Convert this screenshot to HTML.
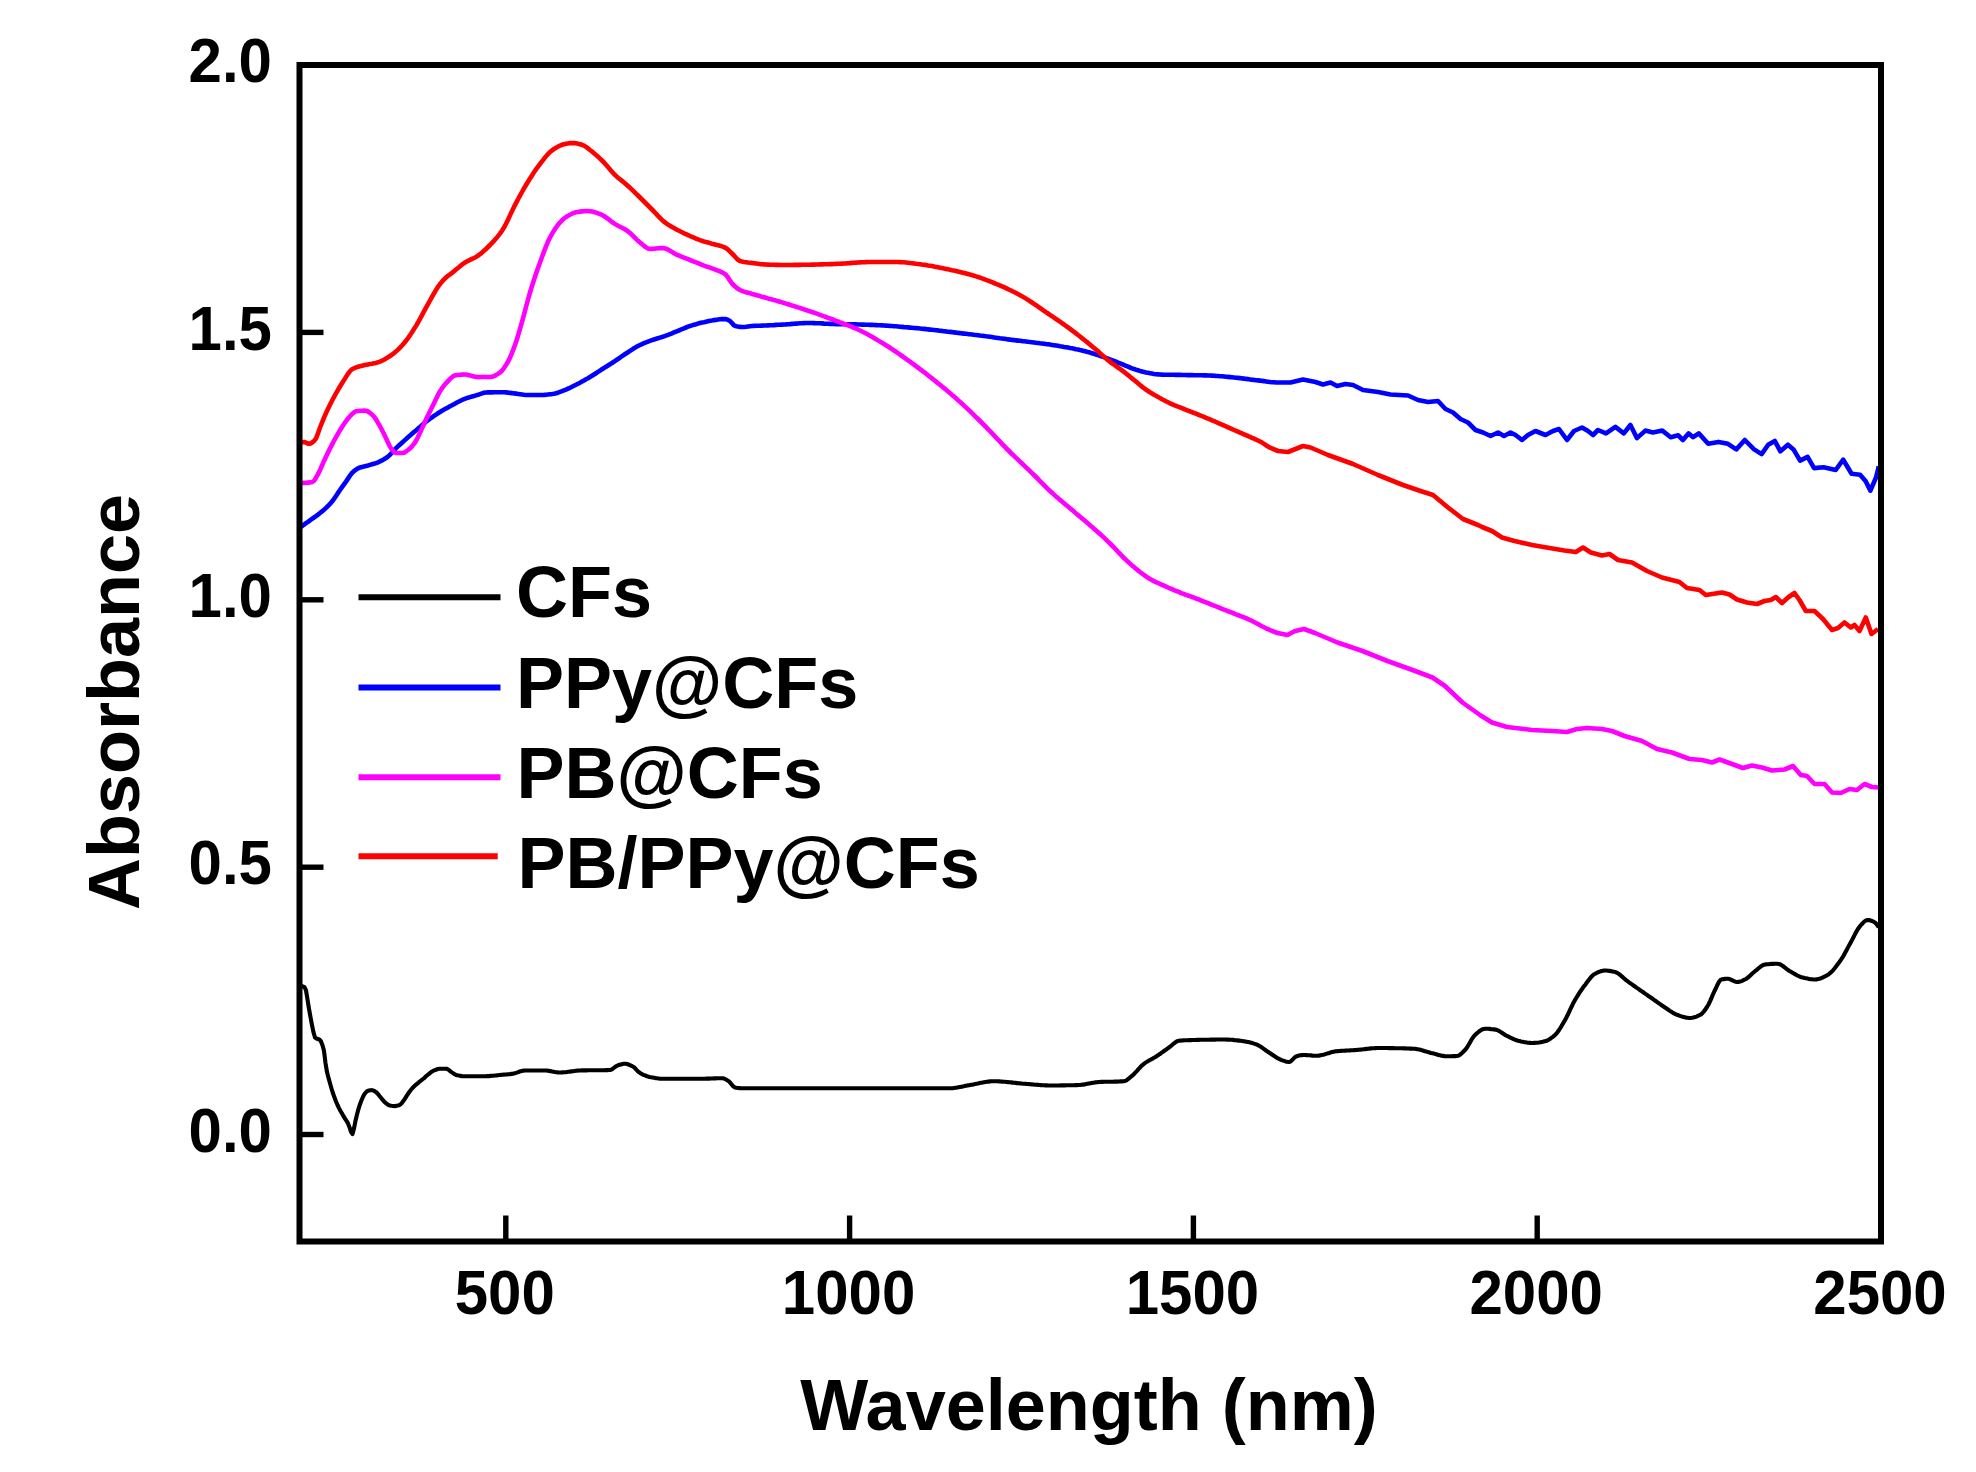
<!DOCTYPE html>
<html lang="en">
<head>
<meta charset="utf-8">
<title>Absorbance spectra</title>
<style>
html,body{margin:0;padding:0;background:#fff;}
body{width:1976px;height:1472px;overflow:hidden;}
svg{display:block;filter:blur(0.6px);}
</style>
</head>
<body>
<svg width="1976" height="1472" viewBox="0 0 1976 1472">
<rect x="0" y="0" width="1976" height="1472" fill="#fff"/>
<g fill="none" stroke-linejoin="round" stroke-linecap="butt">
<path d="M300.0,986.0 L301.5,986.1 L303.0,986.5 L304.5,987.2 L306.0,990.3 L307.5,999.5 L309.0,1008.8 L310.5,1017.2 L312.0,1025.1 L313.5,1032.4 L315.0,1037.5 L316.5,1038.5 L318.0,1039.0 L319.5,1039.6 L321.0,1041.4 L322.5,1045.3 L324.0,1050.9 L325.5,1063.0 L327.0,1072.1 L328.5,1077.9 L330.0,1083.2 L331.5,1088.5 L333.0,1093.3 L334.5,1097.6 L336.0,1101.5 L337.5,1105.0 L339.0,1108.1 L340.5,1111.0 L342.0,1113.6 L343.5,1116.2 L345.0,1118.6 L346.5,1120.9 L348.0,1123.4 L349.5,1127.2 L351.0,1131.9 L352.5,1134.0 L354.0,1128.4 L355.5,1120.8 L357.0,1114.5 L358.5,1108.9 L360.0,1104.2 L361.5,1100.2 L363.0,1096.7 L364.5,1094.0 L366.0,1092.2 L367.5,1090.9 L369.0,1090.5 L370.5,1090.2 L372.0,1090.1 L373.5,1090.6 L375.0,1091.4 L376.5,1092.5 L378.0,1094.1 L379.5,1096.0 L381.0,1097.8 L382.5,1099.7 L384.0,1101.4 L385.5,1102.8 L387.0,1104.0 L388.5,1105.0 L390.0,1105.5 L391.5,1105.8 L393.0,1106.0 L394.5,1106.1 L396.0,1105.9 L397.5,1105.6 L399.0,1105.2 L400.5,1104.4 L402.0,1102.8 L403.5,1100.8 L405.0,1098.6 L406.5,1096.1 L408.0,1093.8 L409.5,1091.7 L411.0,1089.8 L412.5,1088.0 L414.0,1086.5 L415.5,1085.1 L417.0,1083.8 L418.5,1082.6 L420.0,1081.3 L421.5,1080.2 L423.0,1079.0 L424.5,1077.8 L426.0,1076.3 L427.5,1075.0 L429.0,1073.8 L430.5,1072.6 L432.0,1071.5 L433.5,1070.7 L435.0,1070.1 L436.5,1069.5 L438.0,1069.0 L439.5,1068.8 L441.0,1068.8 L442.5,1068.8 L444.0,1068.8 L445.5,1068.8 L447.0,1068.9 L448.5,1069.7 L450.0,1071.0 L451.5,1072.1 L453.0,1073.1 L454.5,1074.2 L456.0,1074.9 L457.5,1075.3 L459.0,1075.6 L460.5,1075.9 L462.0,1076.1 L463.5,1076.2 L465.0,1076.2 L466.5,1076.2 L468.0,1076.2 L469.5,1076.2 L471.0,1076.2 L472.5,1076.2 L474.0,1076.2 L475.5,1076.2 L477.0,1076.2 L478.5,1076.2 L480.0,1076.2 L481.5,1076.2 L483.0,1076.2 L484.5,1076.2 L486.0,1076.2 L487.5,1076.1 L489.0,1076.1 L490.5,1075.9 L492.0,1075.8 L493.5,1075.7 L495.0,1075.5 L496.5,1075.4 L498.0,1075.2 L499.5,1075.0 L501.0,1074.9 L502.5,1074.8 L504.0,1074.6 L505.5,1074.5 L507.0,1074.4 L508.5,1074.2 L510.0,1074.1 L511.5,1073.9 L513.0,1073.7 L514.5,1073.3 L516.0,1072.9 L517.5,1072.4 L519.0,1071.8 L520.5,1071.3 L522.0,1070.9 L523.5,1070.6 L525.0,1070.5 L526.5,1070.5 L528.0,1070.5 L529.5,1070.5 L531.0,1070.5 L532.5,1070.5 L534.0,1070.5 L535.5,1070.5 L537.0,1070.5 L538.5,1070.5 L540.0,1070.5 L541.5,1070.5 L543.0,1070.5 L544.5,1070.5 L546.0,1070.5 L547.5,1070.6 L549.0,1070.9 L550.5,1071.1 L552.0,1071.4 L553.5,1071.7 L555.0,1072.0 L556.5,1072.2 L558.0,1072.4 L559.5,1072.5 L561.0,1072.5 L562.5,1072.4 L564.0,1072.3 L565.5,1072.2 L567.0,1072.0 L568.5,1071.8 L570.0,1071.6 L571.5,1071.4 L573.0,1071.2 L574.5,1071.0 L576.0,1070.8 L577.5,1070.6 L579.0,1070.5 L580.5,1070.5 L582.0,1070.4 L583.5,1070.4 L585.0,1070.4 L586.5,1070.4 L588.0,1070.3 L589.5,1070.3 L591.0,1070.3 L592.5,1070.3 L594.0,1070.3 L595.5,1070.3 L597.0,1070.3 L598.5,1070.3 L600.0,1070.2 L601.5,1070.2 L603.0,1070.2 L604.5,1070.2 L606.0,1070.1 L607.5,1070.1 L609.0,1070.0 L610.5,1069.9 L612.0,1069.3 L613.5,1068.2 L615.0,1067.0 L616.5,1066.0 L618.0,1065.3 L619.5,1064.8 L621.0,1064.4 L622.5,1064.0 L624.0,1063.8 L625.5,1063.8 L627.0,1064.0 L628.5,1064.5 L630.0,1065.1 L631.5,1065.8 L633.0,1066.5 L634.5,1067.7 L636.0,1069.3 L637.5,1070.9 L639.0,1072.3 L640.5,1073.3 L642.0,1074.1 L643.5,1074.8 L645.0,1075.4 L646.5,1076.0 L648.0,1076.5 L649.5,1076.9 L651.0,1077.2 L652.5,1077.5 L654.0,1077.8 L655.5,1078.1 L657.0,1078.3 L658.5,1078.5 L660.0,1078.7 L661.5,1078.7 L663.0,1078.8 L664.5,1078.8 L666.0,1078.8 L667.5,1078.8 L669.0,1078.8 L670.5,1078.8 L672.0,1078.8 L673.5,1078.8 L675.0,1078.8 L676.5,1078.8 L678.0,1078.8 L679.5,1078.8 L681.0,1078.8 L682.5,1078.8 L684.0,1078.8 L685.5,1078.8 L687.0,1078.8 L688.5,1078.8 L690.0,1078.8 L691.5,1078.8 L693.0,1078.8 L694.5,1078.8 L696.0,1078.8 L697.5,1078.8 L699.0,1078.8 L700.5,1078.7 L702.0,1078.7 L703.5,1078.7 L705.0,1078.7 L706.5,1078.6 L708.0,1078.6 L709.5,1078.6 L711.0,1078.5 L712.5,1078.5 L714.0,1078.4 L715.5,1078.4 L717.0,1078.3 L718.5,1078.3 L720.0,1078.3 L721.5,1078.3 L723.0,1078.3 L724.5,1078.7 L726.0,1079.5 L727.5,1080.4 L729.0,1081.4 L730.5,1083.0 L732.0,1084.9 L733.5,1086.6 L735.0,1087.5 L736.5,1087.8 L738.0,1088.0 L739.5,1088.1 L741.0,1088.2 L742.5,1088.2 L744.0,1088.2 L745.5,1088.2 L747.0,1088.2 L748.5,1088.2 L750.0,1088.2 L751.5,1088.2 L753.0,1088.2 L754.5,1088.2 L756.0,1088.2 L757.5,1088.2 L759.0,1088.2 L760.5,1088.2 L762.0,1088.2 L763.5,1088.2 L765.0,1088.2 L766.5,1088.2 L768.0,1088.2 L769.5,1088.2 L771.0,1088.2 L772.5,1088.2 L774.0,1088.2 L775.5,1088.2 L777.0,1088.2 L778.5,1088.2 L780.0,1088.2 L781.5,1088.2 L783.0,1088.2 L784.5,1088.2 L786.0,1088.2 L787.5,1088.2 L789.0,1088.2 L790.5,1088.2 L792.0,1088.2 L793.5,1088.2 L795.0,1088.2 L796.5,1088.2 L798.0,1088.2 L799.5,1088.2 L801.0,1088.2 L802.5,1088.2 L804.0,1088.2 L805.5,1088.2 L807.0,1088.2 L808.5,1088.2 L810.0,1088.2 L811.5,1088.2 L813.0,1088.2 L814.5,1088.2 L816.0,1088.2 L817.5,1088.2 L819.0,1088.2 L820.5,1088.2 L822.0,1088.2 L823.5,1088.2 L825.0,1088.2 L826.5,1088.2 L828.0,1088.2 L829.5,1088.2 L831.0,1088.2 L832.5,1088.2 L834.0,1088.2 L835.5,1088.2 L837.0,1088.2 L838.5,1088.2 L840.0,1088.2 L841.5,1088.2 L843.0,1088.2 L844.5,1088.2 L846.0,1088.2 L847.5,1088.2 L849.0,1088.2 L850.5,1088.2 L852.0,1088.2 L853.5,1088.2 L855.0,1088.2 L856.5,1088.2 L858.0,1088.2 L859.5,1088.2 L861.0,1088.2 L862.5,1088.2 L864.0,1088.2 L865.5,1088.2 L867.0,1088.2 L868.5,1088.2 L870.0,1088.2 L871.5,1088.2 L873.0,1088.2 L874.5,1088.2 L876.0,1088.2 L877.5,1088.2 L879.0,1088.2 L880.5,1088.2 L882.0,1088.2 L883.5,1088.2 L885.0,1088.2 L886.5,1088.2 L888.0,1088.2 L889.5,1088.2 L891.0,1088.2 L892.5,1088.2 L894.0,1088.2 L895.5,1088.2 L897.0,1088.2 L898.5,1088.2 L900.0,1088.2 L901.5,1088.2 L903.0,1088.2 L904.5,1088.2 L906.0,1088.2 L907.5,1088.2 L909.0,1088.2 L910.5,1088.2 L912.0,1088.2 L913.5,1088.2 L915.0,1088.2 L916.5,1088.2 L918.0,1088.2 L919.5,1088.2 L921.0,1088.2 L922.5,1088.2 L924.0,1088.2 L925.5,1088.2 L927.0,1088.2 L928.5,1088.2 L930.0,1088.2 L931.5,1088.2 L933.0,1088.2 L934.5,1088.2 L936.0,1088.2 L937.5,1088.2 L939.0,1088.2 L940.5,1088.2 L942.0,1088.2 L943.5,1088.2 L945.0,1088.2 L946.5,1088.2 L948.0,1088.2 L949.5,1088.2 L951.0,1088.2 L952.5,1088.2 L954.0,1088.0 L955.5,1087.8 L957.0,1087.6 L958.5,1087.3 L960.0,1087.0 L961.5,1086.7 L963.0,1086.4 L964.5,1086.1 L966.0,1085.7 L967.5,1085.4 L969.0,1085.2 L970.5,1084.9 L972.0,1084.7 L973.5,1084.4 L975.0,1084.1 L976.5,1083.8 L978.0,1083.5 L979.5,1083.1 L981.0,1082.8 L982.5,1082.6 L984.0,1082.3 L985.5,1082.0 L987.0,1081.8 L988.5,1081.6 L990.0,1081.4 L991.5,1081.3 L993.0,1081.3 L994.5,1081.3 L996.0,1081.3 L997.5,1081.3 L999.0,1081.4 L1000.5,1081.5 L1002.0,1081.6 L1003.5,1081.7 L1005.0,1081.8 L1006.5,1082.0 L1008.0,1082.1 L1009.5,1082.3 L1011.0,1082.4 L1012.5,1082.6 L1014.0,1082.8 L1015.5,1082.9 L1017.0,1083.1 L1018.5,1083.3 L1020.0,1083.4 L1021.5,1083.5 L1023.0,1083.7 L1024.5,1083.8 L1026.0,1083.9 L1027.5,1084.0 L1029.0,1084.1 L1030.5,1084.3 L1032.0,1084.4 L1033.5,1084.5 L1035.0,1084.7 L1036.5,1084.8 L1038.0,1084.9 L1039.5,1085.0 L1041.0,1085.1 L1042.5,1085.2 L1044.0,1085.3 L1045.5,1085.4 L1047.0,1085.4 L1048.5,1085.5 L1050.0,1085.5 L1051.5,1085.5 L1053.0,1085.5 L1054.5,1085.5 L1056.0,1085.5 L1057.5,1085.5 L1059.0,1085.5 L1060.5,1085.4 L1062.0,1085.4 L1063.5,1085.4 L1065.0,1085.4 L1066.5,1085.3 L1068.0,1085.3 L1069.5,1085.3 L1071.0,1085.2 L1072.5,1085.2 L1074.0,1085.2 L1075.5,1085.1 L1077.0,1085.1 L1078.5,1085.0 L1080.0,1085.0 L1081.5,1084.8 L1083.0,1084.6 L1084.5,1084.4 L1086.0,1084.1 L1087.5,1083.8 L1089.0,1083.5 L1090.5,1083.2 L1092.0,1082.9 L1093.5,1082.7 L1095.0,1082.4 L1096.5,1082.2 L1098.0,1082.1 L1099.5,1082.0 L1101.0,1081.9 L1102.5,1081.9 L1104.0,1081.8 L1105.5,1081.8 L1107.0,1081.7 L1108.5,1081.7 L1110.0,1081.7 L1111.5,1081.7 L1113.0,1081.7 L1114.5,1081.6 L1116.0,1081.6 L1117.5,1081.6 L1119.0,1081.5 L1120.5,1081.4 L1122.0,1081.4 L1123.5,1081.3 L1125.0,1081.0 L1126.5,1080.3 L1128.0,1079.2 L1129.5,1077.9 L1131.0,1076.7 L1132.5,1075.4 L1134.0,1074.0 L1135.5,1072.4 L1137.0,1070.8 L1138.5,1069.1 L1140.0,1067.5 L1141.5,1065.9 L1143.0,1064.6 L1144.5,1063.4 L1146.0,1062.4 L1147.5,1061.4 L1149.0,1060.5 L1150.5,1059.7 L1152.0,1058.9 L1153.5,1058.0 L1155.0,1057.2 L1156.5,1056.2 L1158.0,1055.3 L1159.5,1054.2 L1161.0,1053.2 L1162.5,1052.1 L1164.0,1051.0 L1165.5,1050.0 L1167.0,1048.9 L1168.5,1047.8 L1170.0,1046.8 L1171.5,1045.5 L1173.0,1044.2 L1174.5,1043.0 L1176.0,1041.9 L1177.5,1041.1 L1179.0,1040.8 L1180.5,1040.6 L1182.0,1040.5 L1183.5,1040.4 L1185.0,1040.3 L1186.5,1040.2 L1188.0,1040.2 L1189.5,1040.1 L1191.0,1040.1 L1192.5,1040.0 L1194.0,1040.0 L1195.5,1040.0 L1197.0,1039.9 L1198.5,1039.9 L1200.0,1039.8 L1201.5,1039.8 L1203.0,1039.8 L1204.5,1039.7 L1206.0,1039.7 L1207.5,1039.7 L1209.0,1039.7 L1210.5,1039.6 L1212.0,1039.6 L1213.5,1039.6 L1215.0,1039.6 L1216.5,1039.5 L1218.0,1039.5 L1219.5,1039.5 L1221.0,1039.5 L1222.5,1039.5 L1224.0,1039.5 L1225.5,1039.5 L1227.0,1039.6 L1228.5,1039.6 L1230.0,1039.7 L1231.5,1039.8 L1233.0,1039.9 L1234.5,1040.1 L1236.0,1040.2 L1237.5,1040.4 L1239.0,1040.6 L1240.5,1040.8 L1242.0,1041.0 L1243.5,1041.2 L1245.0,1041.4 L1246.5,1041.7 L1248.0,1042.0 L1249.5,1042.3 L1251.0,1042.7 L1252.5,1043.1 L1254.0,1043.6 L1255.5,1044.1 L1257.0,1044.7 L1258.5,1045.4 L1260.0,1046.3 L1261.5,1047.2 L1263.0,1048.3 L1264.5,1049.4 L1266.0,1050.5 L1267.5,1051.5 L1269.0,1052.5 L1270.5,1053.5 L1272.0,1054.5 L1273.5,1055.5 L1275.0,1056.5 L1276.5,1057.5 L1278.0,1058.4 L1279.5,1059.1 L1281.0,1059.8 L1282.5,1060.4 L1284.0,1060.9 L1285.5,1061.4 L1287.0,1061.8 L1288.5,1062.0 L1290.0,1061.8 L1291.5,1060.7 L1293.0,1059.1 L1294.5,1057.6 L1296.0,1056.4 L1297.5,1056.0 L1299.0,1055.6 L1300.5,1055.3 L1302.0,1055.1 L1303.5,1055.0 L1305.0,1055.0 L1306.5,1055.1 L1308.0,1055.2 L1309.5,1055.3 L1311.0,1055.4 L1312.5,1055.6 L1314.0,1055.7 L1315.5,1055.7 L1317.0,1055.7 L1318.5,1055.6 L1320.0,1055.4 L1321.5,1055.1 L1323.0,1054.8 L1324.5,1054.4 L1326.0,1053.9 L1327.5,1053.4 L1329.0,1053.0 L1330.5,1052.5 L1332.0,1052.1 L1333.5,1051.7 L1335.0,1051.4 L1336.5,1051.2 L1338.0,1051.1 L1339.5,1051.0 L1341.0,1050.9 L1342.5,1050.8 L1344.0,1050.7 L1345.5,1050.6 L1347.0,1050.5 L1348.5,1050.5 L1350.0,1050.4 L1351.5,1050.3 L1353.0,1050.2 L1354.5,1050.1 L1356.0,1050.0 L1357.5,1049.9 L1359.0,1049.8 L1360.5,1049.6 L1362.0,1049.5 L1363.5,1049.3 L1365.0,1049.1 L1366.5,1048.9 L1368.0,1048.8 L1369.5,1048.6 L1371.0,1048.4 L1372.5,1048.3 L1374.0,1048.2 L1375.5,1048.1 L1377.0,1048.0 L1378.5,1048.0 L1380.0,1048.0 L1381.5,1048.0 L1383.0,1048.0 L1384.5,1048.0 L1386.0,1048.0 L1387.5,1048.0 L1389.0,1048.1 L1390.5,1048.1 L1392.0,1048.1 L1393.5,1048.1 L1395.0,1048.2 L1396.5,1048.2 L1398.0,1048.2 L1399.5,1048.3 L1401.0,1048.3 L1402.5,1048.3 L1404.0,1048.4 L1405.5,1048.4 L1407.0,1048.5 L1408.5,1048.5 L1410.0,1048.6 L1411.5,1048.6 L1413.0,1048.7 L1414.5,1048.8 L1416.0,1048.9 L1417.5,1049.2 L1419.0,1049.5 L1420.5,1049.8 L1422.0,1050.3 L1423.5,1050.7 L1425.0,1051.2 L1426.5,1051.6 L1428.0,1052.1 L1429.5,1052.5 L1431.0,1052.9 L1432.5,1053.2 L1434.0,1053.6 L1435.5,1054.1 L1437.0,1054.5 L1438.5,1054.9 L1440.0,1055.3 L1441.5,1055.7 L1443.0,1055.9 L1444.5,1056.1 L1446.0,1056.2 L1447.5,1056.2 L1449.0,1056.2 L1450.5,1056.2 L1452.0,1056.2 L1453.5,1056.1 L1455.0,1056.1 L1456.5,1056.0 L1458.0,1055.8 L1459.5,1055.1 L1461.0,1053.9 L1462.5,1052.5 L1464.0,1051.0 L1465.5,1049.5 L1467.0,1047.5 L1468.5,1045.0 L1470.0,1042.4 L1471.5,1039.7 L1473.0,1037.4 L1474.5,1035.5 L1476.0,1034.1 L1477.5,1032.8 L1479.0,1031.5 L1480.5,1030.4 L1482.0,1029.5 L1483.5,1029.0 L1485.0,1028.8 L1486.5,1028.8 L1488.0,1028.8 L1489.5,1028.9 L1491.0,1029.1 L1492.5,1029.2 L1494.0,1029.4 L1495.5,1029.6 L1497.0,1030.0 L1498.5,1030.7 L1500.0,1031.6 L1501.5,1032.5 L1503.0,1033.5 L1504.5,1034.5 L1506.0,1035.5 L1507.5,1036.2 L1509.0,1036.9 L1510.5,1037.7 L1512.0,1038.4 L1513.5,1039.0 L1515.0,1039.7 L1516.5,1040.2 L1518.0,1040.7 L1519.5,1041.1 L1521.0,1041.5 L1522.5,1041.8 L1524.0,1042.1 L1525.5,1042.3 L1527.0,1042.6 L1528.5,1042.8 L1530.0,1042.9 L1531.5,1043.0 L1533.0,1043.0 L1534.5,1042.9 L1536.0,1042.8 L1537.5,1042.7 L1539.0,1042.5 L1540.5,1042.2 L1542.0,1041.9 L1543.5,1041.6 L1545.0,1041.2 L1546.5,1040.8 L1548.0,1040.1 L1549.5,1039.3 L1551.0,1038.2 L1552.5,1037.1 L1554.0,1035.9 L1555.5,1034.5 L1557.0,1032.9 L1558.5,1030.8 L1560.0,1028.5 L1561.5,1026.1 L1563.0,1023.5 L1564.5,1020.9 L1566.0,1018.2 L1567.5,1015.3 L1569.0,1012.1 L1570.5,1008.9 L1572.0,1005.8 L1573.5,1002.7 L1575.0,1000.0 L1576.5,997.5 L1578.0,995.1 L1579.5,992.7 L1581.0,990.5 L1582.5,988.3 L1584.0,986.3 L1585.5,984.4 L1587.0,982.3 L1588.5,980.3 L1590.0,978.4 L1591.5,976.6 L1593.0,975.2 L1594.5,974.0 L1596.0,973.3 L1597.5,972.5 L1599.0,971.9 L1600.5,971.3 L1602.0,970.9 L1603.5,970.6 L1605.0,970.5 L1606.5,970.5 L1608.0,970.7 L1609.5,970.9 L1611.0,971.1 L1612.5,971.4 L1614.0,971.8 L1615.5,972.1 L1617.0,972.8 L1618.5,973.7 L1620.0,974.8 L1621.5,976.1 L1623.0,977.4 L1624.5,978.8 L1626.0,980.1 L1627.5,981.2 L1629.0,982.3 L1630.5,983.4 L1632.0,984.4 L1633.5,985.5 L1635.0,986.5 L1636.5,987.6 L1638.0,988.6 L1639.5,989.7 L1641.0,990.7 L1642.5,991.8 L1644.0,992.8 L1645.5,993.9 L1647.0,994.9 L1648.5,996.0 L1650.0,997.0 L1651.5,998.0 L1653.0,999.1 L1654.5,1000.2 L1656.0,1001.2 L1657.5,1002.3 L1659.0,1003.4 L1660.5,1004.4 L1662.0,1005.5 L1663.5,1006.5 L1665.0,1007.5 L1666.5,1008.5 L1668.0,1009.5 L1669.5,1010.6 L1671.0,1011.6 L1672.5,1012.5 L1674.0,1013.4 L1675.5,1014.2 L1677.0,1014.8 L1678.5,1015.3 L1680.0,1015.9 L1681.5,1016.4 L1683.0,1016.8 L1684.5,1017.2 L1686.0,1017.6 L1687.5,1017.8 L1689.0,1018.0 L1690.5,1018.0 L1692.0,1017.8 L1693.5,1017.5 L1695.0,1017.1 L1696.5,1016.6 L1698.0,1015.9 L1699.5,1015.2 L1701.0,1014.4 L1702.5,1013.0 L1704.0,1011.3 L1705.5,1009.2 L1707.0,1007.0 L1708.5,1004.5 L1710.0,1001.4 L1711.5,997.9 L1713.0,994.3 L1714.5,991.0 L1716.0,988.0 L1717.5,984.7 L1719.0,981.8 L1720.5,979.9 L1722.0,979.3 L1723.5,979.1 L1725.0,978.9 L1726.5,978.8 L1728.0,978.8 L1729.5,979.1 L1731.0,979.7 L1732.5,980.4 L1734.0,981.1 L1735.5,981.7 L1737.0,982.0 L1738.5,981.9 L1740.0,981.6 L1741.5,981.1 L1743.0,980.4 L1744.5,979.7 L1746.0,979.0 L1747.5,977.9 L1749.0,976.6 L1750.5,975.3 L1752.0,973.8 L1753.5,972.5 L1755.0,971.2 L1756.5,970.1 L1758.0,968.8 L1759.5,967.5 L1761.0,966.3 L1762.5,965.4 L1764.0,964.7 L1765.5,964.4 L1767.0,964.3 L1768.5,964.2 L1770.0,964.0 L1771.5,963.9 L1773.0,963.9 L1774.5,963.8 L1776.0,963.8 L1777.5,963.8 L1779.0,964.0 L1780.5,964.5 L1782.0,965.4 L1783.5,966.5 L1785.0,967.6 L1786.5,968.8 L1788.0,970.0 L1789.5,971.0 L1791.0,971.8 L1792.5,972.7 L1794.0,973.6 L1795.5,974.4 L1797.0,975.3 L1798.5,976.0 L1800.0,976.7 L1801.5,977.2 L1803.0,977.6 L1804.5,978.0 L1806.0,978.3 L1807.5,978.6 L1809.0,978.9 L1810.5,979.2 L1812.0,979.3 L1813.5,979.5 L1815.0,979.5 L1816.5,979.4 L1818.0,979.1 L1819.5,978.7 L1821.0,978.2 L1822.5,977.6 L1824.0,976.8 L1825.5,976.1 L1827.0,975.3 L1828.5,974.4 L1830.0,973.2 L1831.5,971.9 L1833.0,970.3 L1834.5,968.5 L1836.0,966.6 L1837.5,964.6 L1839.0,962.6 L1840.5,960.5 L1842.0,958.2 L1843.5,955.7 L1845.0,953.0 L1846.5,950.2 L1848.0,947.4 L1849.5,944.6 L1851.0,941.9 L1852.5,939.1 L1854.0,936.1 L1855.5,933.3 L1857.0,930.6 L1858.5,928.2 L1860.0,926.2 L1861.5,924.5 L1863.0,922.9 L1864.5,921.4 L1866.0,920.4 L1867.5,920.0 L1869.0,920.1 L1870.5,920.5 L1872.0,921.0 L1873.5,921.7 L1875.0,922.5 L1876.5,924.0 L1878.0,926.2 L1878.8,927.5" stroke="#000" stroke-width="4.1"/>
<path d="M300.0,527.5 L302.0,526.1 L304.0,524.7 L306.0,523.2 L308.0,521.8 L310.0,520.3 L312.0,518.9 L314.0,517.5 L316.0,516.1 L318.0,514.6 L320.0,513.0 L322.0,511.4 L324.0,509.7 L326.0,507.9 L328.0,506.0 L330.0,503.9 L332.0,501.6 L334.0,498.9 L336.0,496.0 L338.0,492.9 L340.0,490.0 L342.0,487.2 L344.0,484.4 L346.0,481.6 L348.0,478.6 L350.0,475.6 L352.0,473.0 L354.0,471.1 L356.0,469.6 L358.0,468.3 L360.0,467.5 L362.0,467.0 L364.0,466.5 L366.0,466.0 L368.0,465.5 L370.0,464.9 L372.0,464.3 L374.0,463.7 L376.0,463.1 L378.0,462.3 L380.0,461.4 L382.0,460.4 L384.0,459.3 L386.0,458.0 L388.0,456.6 L390.0,454.8 L392.0,452.6 L394.0,450.4 L396.0,448.2 L398.0,446.3 L400.0,444.5 L402.0,442.7 L404.0,440.9 L406.0,439.1 L408.0,437.3 L410.0,435.6 L412.0,433.8 L414.0,432.1 L416.0,430.4 L418.0,428.6 L420.0,426.9 L422.0,425.1 L424.0,423.4 L426.0,421.8 L428.0,420.2 L430.0,418.7 L432.0,417.3 L434.0,415.9 L436.0,414.6 L438.0,413.3 L440.0,412.0 L442.0,410.8 L444.0,409.6 L446.0,408.5 L448.0,407.4 L450.0,406.3 L452.0,405.3 L454.0,404.2 L456.0,403.1 L458.0,402.0 L460.0,401.0 L462.0,400.0 L464.0,399.1 L466.0,398.4 L468.0,397.7 L470.0,397.1 L472.0,396.5 L474.0,396.0 L476.0,395.4 L478.0,394.8 L480.0,394.1 L482.0,393.4 L484.0,392.8 L486.0,392.5 L488.0,392.4 L490.0,392.4 L492.0,392.4 L494.0,392.3 L496.0,392.3 L498.0,392.3 L500.0,392.3 L502.0,392.3 L504.0,392.3 L506.0,392.4 L508.0,392.6 L510.0,392.9 L512.0,393.1 L514.0,393.4 L516.0,393.6 L518.0,393.9 L520.0,394.2 L522.0,394.5 L524.0,394.8 L526.0,395.0 L528.0,395.0 L530.0,395.0 L532.0,395.0 L534.0,395.0 L536.0,395.0 L538.0,395.0 L540.0,395.0 L542.0,395.0 L544.0,394.9 L546.0,394.7 L548.0,394.5 L550.0,394.3 L552.0,394.1 L554.0,393.8 L556.0,393.3 L558.0,392.7 L560.0,391.9 L562.0,391.2 L564.0,390.4 L566.0,389.6 L568.0,388.7 L570.0,387.8 L572.0,386.8 L574.0,385.8 L576.0,384.8 L578.0,383.7 L580.0,382.7 L582.0,381.6 L584.0,380.5 L586.0,379.3 L588.0,378.2 L590.0,377.0 L592.0,375.8 L594.0,374.5 L596.0,373.2 L598.0,371.9 L600.0,370.6 L602.0,369.3 L604.0,368.0 L606.0,366.8 L608.0,365.5 L610.0,364.2 L612.0,363.0 L614.0,361.7 L616.0,360.3 L618.0,359.0 L620.0,357.6 L622.0,356.2 L624.0,354.8 L626.0,353.5 L628.0,352.2 L630.0,350.9 L632.0,349.6 L634.0,348.3 L636.0,347.1 L638.0,346.0 L640.0,345.0 L642.0,344.1 L644.0,343.2 L646.0,342.4 L648.0,341.6 L650.0,340.9 L652.0,340.2 L654.0,339.5 L656.0,338.8 L658.0,338.2 L660.0,337.6 L662.0,337.0 L664.0,336.3 L666.0,335.6 L668.0,334.9 L670.0,334.1 L672.0,333.3 L674.0,332.4 L676.0,331.6 L678.0,330.8 L680.0,330.0 L682.0,329.1 L684.0,328.3 L686.0,327.5 L688.0,326.7 L690.0,326.0 L692.0,325.4 L694.0,324.7 L696.0,324.2 L698.0,323.6 L700.0,323.1 L702.0,322.6 L704.0,322.2 L706.0,321.7 L708.0,321.2 L710.0,320.8 L712.0,320.5 L714.0,320.1 L716.0,319.9 L718.0,319.6 L720.0,319.3 L722.0,319.1 L724.0,319.0 L726.0,319.1 L728.0,319.9 L730.0,321.0 L732.0,323.1 L734.0,325.4 L736.0,326.2 L738.0,326.6 L740.0,326.9 L742.0,327.0 L744.0,327.0 L746.0,326.8 L748.0,326.5 L750.0,326.2 L752.0,326.0 L754.0,325.9 L756.0,325.8 L758.0,325.8 L760.0,325.7 L762.0,325.6 L764.0,325.5 L766.0,325.5 L768.0,325.4 L770.0,325.3 L772.0,325.2 L774.0,325.1 L776.0,324.9 L778.0,324.8 L780.0,324.7 L782.0,324.6 L784.0,324.5 L786.0,324.4 L788.0,324.2 L790.0,324.1 L792.0,323.9 L794.0,323.8 L796.0,323.6 L798.0,323.5 L800.0,323.3 L802.0,323.2 L804.0,323.1 L806.0,323.0 L808.0,323.0 L810.0,323.0 L812.0,323.0 L814.0,323.1 L816.0,323.2 L818.0,323.2 L820.0,323.3 L822.0,323.4 L824.0,323.6 L826.0,323.7 L828.0,323.8 L830.0,323.9 L832.0,323.9 L834.0,324.0 L836.0,324.1 L838.0,324.1 L840.0,324.1 L842.0,324.2 L844.0,324.2 L846.0,324.2 L848.0,324.3 L850.0,324.3 L852.0,324.3 L854.0,324.4 L856.0,324.4 L858.0,324.5 L860.0,324.5 L862.0,324.6 L864.0,324.6 L866.0,324.7 L868.0,324.8 L870.0,324.9 L872.0,324.9 L874.0,325.0 L876.0,325.1 L878.0,325.2 L880.0,325.3 L882.0,325.4 L884.0,325.5 L886.0,325.6 L888.0,325.7 L890.0,325.9 L892.0,326.0 L894.0,326.2 L896.0,326.3 L898.0,326.5 L900.0,326.7 L902.0,326.9 L904.0,327.1 L906.0,327.2 L908.0,327.4 L910.0,327.6 L912.0,327.8 L914.0,328.0 L916.0,328.1 L918.0,328.3 L920.0,328.5 L922.0,328.7 L924.0,328.9 L926.0,329.1 L928.0,329.4 L930.0,329.6 L932.0,329.8 L934.0,330.0 L936.0,330.2 L938.0,330.4 L940.0,330.7 L942.0,330.9 L944.0,331.2 L946.0,331.4 L948.0,331.7 L950.0,331.9 L952.0,332.1 L954.0,332.4 L956.0,332.6 L958.0,332.9 L960.0,333.1 L962.0,333.4 L964.0,333.6 L966.0,333.8 L968.0,334.1 L970.0,334.3 L972.0,334.5 L974.0,334.8 L976.0,335.0 L978.0,335.2 L980.0,335.5 L982.0,335.7 L984.0,336.0 L986.0,336.3 L988.0,336.5 L990.0,336.8 L992.0,337.1 L994.0,337.4 L996.0,337.7 L998.0,338.0 L1000.0,338.3 L1002.0,338.5 L1004.0,338.8 L1006.0,339.1 L1008.0,339.4 L1010.0,339.6 L1012.0,339.9 L1014.0,340.1 L1016.0,340.4 L1018.0,340.6 L1020.0,340.8 L1022.0,341.1 L1024.0,341.3 L1026.0,341.5 L1028.0,341.8 L1030.0,342.0 L1032.0,342.2 L1034.0,342.5 L1036.0,342.8 L1038.0,343.0 L1040.0,343.3 L1042.0,343.5 L1044.0,343.8 L1046.0,344.1 L1048.0,344.3 L1050.0,344.6 L1052.0,344.9 L1054.0,345.2 L1056.0,345.5 L1058.0,345.8 L1060.0,346.2 L1062.0,346.5 L1064.0,346.9 L1066.0,347.2 L1068.0,347.6 L1070.0,348.0 L1072.0,348.3 L1074.0,348.7 L1076.0,349.2 L1078.0,349.6 L1080.0,350.1 L1082.0,350.5 L1084.0,351.0 L1086.0,351.5 L1088.0,352.1 L1090.0,352.6 L1092.0,353.2 L1094.0,353.8 L1096.0,354.5 L1098.0,355.1 L1100.0,355.8 L1102.0,356.5 L1104.0,357.2 L1106.0,357.9 L1108.0,358.6 L1110.0,359.4 L1112.0,360.1 L1114.0,360.9 L1116.0,361.7 L1118.0,362.6 L1120.0,363.4 L1122.0,364.2 L1124.0,365.0 L1126.0,365.9 L1128.0,366.7 L1130.0,367.5 L1132.0,368.3 L1134.0,369.0 L1136.0,369.7 L1138.0,370.3 L1140.0,370.9 L1142.0,371.4 L1144.0,371.9 L1146.0,372.4 L1148.0,372.8 L1150.0,373.2 L1152.0,373.6 L1154.0,374.0 L1156.0,374.3 L1158.0,374.4 L1160.0,374.5 L1162.0,374.6 L1164.0,374.7 L1166.0,374.7 L1168.0,374.7 L1170.0,374.8 L1172.0,374.8 L1174.0,374.8 L1176.0,374.9 L1178.0,374.9 L1180.0,374.9 L1182.0,375.0 L1184.0,375.0 L1186.0,375.0 L1188.0,375.1 L1190.0,375.1 L1192.0,375.1 L1194.0,375.2 L1196.0,375.2 L1198.0,375.2 L1200.0,375.3 L1202.0,375.3 L1204.0,375.4 L1206.0,375.4 L1208.0,375.5 L1210.0,375.5 L1212.0,375.6 L1214.0,375.7 L1216.0,375.9 L1218.0,376.0 L1220.0,376.2 L1222.0,376.3 L1224.0,376.5 L1226.0,376.7 L1228.0,376.9 L1230.0,377.1 L1232.0,377.3 L1234.0,377.5 L1236.0,377.7 L1238.0,377.9 L1240.0,378.1 L1242.0,378.4 L1244.0,378.6 L1246.0,378.9 L1248.0,379.1 L1250.0,379.4 L1252.0,379.7 L1254.0,379.9 L1256.0,380.2 L1258.0,380.4 L1260.0,380.6 L1262.0,380.9 L1264.0,381.1 L1266.0,381.4 L1268.0,381.7 L1270.0,382.0 L1272.0,382.2 L1274.0,382.3 L1276.0,382.5 L1278.0,382.5 L1280.0,382.5 L1290.5,382.5 L1303.0,379.5 L1315.5,382.0 L1323.0,384.5 L1330.5,382.5 L1337.0,386.0 L1345.5,384.0 L1353.0,385.0 L1363.0,390.0 L1378.0,392.0 L1390.5,394.5 L1408.0,395.5 L1418.0,400.0 L1428.0,402.0 L1438.0,401.0 L1445.5,409.0 L1453.0,412.5 L1460.5,419.0 L1468.0,422.5 L1475.5,430.0 L1483.0,432.5 L1490.5,436.0 L1498.0,432.5 L1504.0,436.0 L1510.5,432.5 L1515.5,435.0 L1522.0,440.0 L1528.0,435.0 L1535.5,431.0 L1545.5,435.0 L1553.0,431.0 L1559.0,429.0 L1567.0,440.0 L1574.0,431.0 L1582.0,427.5 L1588.0,431.0 L1593.0,435.0 L1598.0,430.0 L1606.0,433.4 L1615.4,426.9 L1623.8,433.4 L1630.4,425.0 L1636.9,438.1 L1645.4,430.6 L1652.9,432.5 L1662.3,430.6 L1670.7,437.2 L1678.2,435.3 L1682.9,440.0 L1688.5,433.4 L1693.2,437.2 L1698.8,433.4 L1708.2,443.8 L1718.5,441.9 L1727.9,443.8 L1736.3,449.4 L1744.8,440.0 L1754.1,449.4 L1761.6,454.1 L1768.2,444.7 L1774.8,440.9 L1780.4,451.3 L1787.9,444.7 L1793.5,449.4 L1800.1,460.6 L1807.6,456.9 L1814.1,468.1 L1823.5,467.2 L1835.7,470.0 L1843.2,459.7 L1851.6,473.8 L1860.1,474.7 L1865.7,481.3 L1870.4,490.6 L1876.0,477.5 L1878.8,466.3" stroke="#0000ff" stroke-width="4.6"/>
<path d="M300.0,483.0 L302.0,483.0 L304.0,482.9 L306.0,482.8 L308.0,482.6 L310.0,482.4 L312.0,482.1 L314.0,480.9 L316.0,477.7 L318.0,474.1 L320.0,470.1 L322.0,465.5 L324.0,460.9 L326.0,456.7 L328.0,452.5 L330.0,448.5 L332.0,444.6 L334.0,440.8 L336.0,437.1 L338.0,433.6 L340.0,430.2 L342.0,427.0 L344.0,424.0 L346.0,421.1 L348.0,418.5 L350.0,416.2 L352.0,414.2 L354.0,412.3 L356.0,411.3 L358.0,411.0 L360.0,410.8 L362.0,410.7 L364.0,410.6 L366.0,410.7 L368.0,411.5 L370.0,412.9 L372.0,414.6 L374.0,416.6 L376.0,419.4 L378.0,422.8 L380.0,426.2 L382.0,430.0 L384.0,434.1 L386.0,438.2 L388.0,442.6 L390.0,446.8 L392.0,449.7 L394.0,451.9 L396.0,453.0 L398.0,453.0 L400.0,453.0 L402.0,453.0 L404.0,452.7 L406.0,451.5 L408.0,450.0 L410.0,448.4 L412.0,446.3 L414.0,443.9 L416.0,440.9 L418.0,437.0 L420.0,432.7 L422.0,428.4 L424.0,424.0 L426.0,419.5 L428.0,415.2 L430.0,411.2 L432.0,407.2 L434.0,403.2 L436.0,399.0 L438.0,394.9 L440.0,391.2 L442.0,388.2 L444.0,385.6 L446.0,383.3 L448.0,381.1 L450.0,378.9 L452.0,377.1 L454.0,375.8 L456.0,375.3 L458.0,375.0 L460.0,374.8 L462.0,374.6 L464.0,374.5 L466.0,374.5 L468.0,374.9 L470.0,375.4 L472.0,376.0 L474.0,376.5 L476.0,376.9 L478.0,377.0 L480.0,377.0 L482.0,377.0 L484.0,377.0 L486.0,377.0 L488.0,377.0 L490.0,377.0 L492.0,376.8 L494.0,376.1 L496.0,375.1 L498.0,373.9 L500.0,372.5 L502.0,370.7 L504.0,368.1 L506.0,365.0 L508.0,361.6 L510.0,357.6 L512.0,352.9 L514.0,347.7 L516.0,342.1 L518.0,335.7 L520.0,328.8 L522.0,321.8 L524.0,314.6 L526.0,307.0 L528.0,299.5 L530.0,292.5 L532.0,286.0 L534.0,279.8 L536.0,273.8 L538.0,268.0 L540.0,262.5 L542.0,257.0 L544.0,251.6 L546.0,246.4 L548.0,241.6 L550.0,237.5 L552.0,233.9 L554.0,230.6 L556.0,227.5 L558.0,224.8 L560.0,222.5 L562.0,220.4 L564.0,218.5 L566.0,217.0 L568.0,215.7 L570.0,214.7 L572.0,213.7 L574.0,212.9 L576.0,212.3 L578.0,211.9 L580.0,211.6 L582.0,211.4 L584.0,211.2 L586.0,211.0 L588.0,211.0 L590.0,211.2 L592.0,211.5 L594.0,212.0 L596.0,212.6 L598.0,213.3 L600.0,214.0 L602.0,214.9 L604.0,216.0 L606.0,217.4 L608.0,218.9 L610.0,220.4 L612.0,222.0 L614.0,223.4 L616.0,224.6 L618.0,225.7 L620.0,226.7 L622.0,227.7 L624.0,228.8 L626.0,230.0 L628.0,231.4 L630.0,233.0 L632.0,234.9 L634.0,236.9 L636.0,238.9 L638.0,240.8 L640.0,242.5 L642.0,244.1 L644.0,245.9 L646.0,247.4 L648.0,248.6 L650.0,249.0 L652.0,248.9 L654.0,248.8 L656.0,248.5 L658.0,248.3 L660.0,248.1 L662.0,248.0 L664.0,248.1 L666.0,248.7 L668.0,249.6 L670.0,250.7 L672.0,251.9 L674.0,253.2 L676.0,254.3 L678.0,255.2 L680.0,256.0 L682.0,256.9 L684.0,257.6 L686.0,258.4 L688.0,259.2 L690.0,260.0 L692.0,260.8 L694.0,261.6 L696.0,262.4 L698.0,263.2 L700.0,264.0 L702.0,264.8 L704.0,265.6 L706.0,266.3 L708.0,267.0 L710.0,267.6 L712.0,268.4 L714.0,269.1 L716.0,269.9 L718.0,270.6 L720.0,271.4 L722.0,272.3 L724.0,273.4 L726.0,274.9 L728.0,277.5 L730.0,280.7 L732.0,283.5 L734.0,285.5 L736.0,287.3 L738.0,288.8 L740.0,290.0 L742.0,290.9 L744.0,291.6 L746.0,292.2 L748.0,292.8 L750.0,293.3 L752.0,293.9 L754.0,294.4 L756.0,295.0 L758.0,295.6 L760.0,296.1 L762.0,296.7 L764.0,297.2 L766.0,297.8 L768.0,298.4 L770.0,298.9 L772.0,299.5 L774.0,300.1 L776.0,300.6 L778.0,301.2 L780.0,301.8 L782.0,302.4 L784.0,303.0 L786.0,303.6 L788.0,304.2 L790.0,304.8 L792.0,305.5 L794.0,306.1 L796.0,306.7 L798.0,307.4 L800.0,308.0 L802.0,308.7 L804.0,309.3 L806.0,310.0 L808.0,310.7 L810.0,311.3 L812.0,312.0 L814.0,312.7 L816.0,313.4 L818.0,314.1 L820.0,314.8 L822.0,315.6 L824.0,316.3 L826.0,317.0 L828.0,317.8 L830.0,318.5 L832.0,319.2 L834.0,320.0 L836.0,320.8 L838.0,321.5 L840.0,322.3 L842.0,323.0 L844.0,323.8 L846.0,324.5 L848.0,325.3 L850.0,326.1 L852.0,326.9 L854.0,327.8 L856.0,328.6 L858.0,329.5 L860.0,330.5 L862.0,331.4 L864.0,332.5 L866.0,333.5 L868.0,334.6 L870.0,335.7 L872.0,336.8 L874.0,338.0 L876.0,339.2 L878.0,340.4 L880.0,341.6 L882.0,342.8 L884.0,344.0 L886.0,345.2 L888.0,346.5 L890.0,347.8 L892.0,349.1 L894.0,350.5 L896.0,351.8 L898.0,353.2 L900.0,354.6 L902.0,356.0 L904.0,357.4 L906.0,358.9 L908.0,360.3 L910.0,361.7 L912.0,363.2 L914.0,364.6 L916.0,366.1 L918.0,367.6 L920.0,369.1 L922.0,370.6 L924.0,372.2 L926.0,373.7 L928.0,375.3 L930.0,376.8 L932.0,378.4 L934.0,380.0 L936.0,381.6 L938.0,383.2 L940.0,384.8 L942.0,386.5 L944.0,388.1 L946.0,389.8 L948.0,391.5 L950.0,393.1 L952.0,394.9 L954.0,396.6 L956.0,398.3 L958.0,400.1 L960.0,401.9 L962.0,403.7 L964.0,405.6 L966.0,407.4 L968.0,409.3 L970.0,411.2 L972.0,413.2 L974.0,415.1 L976.0,417.1 L978.0,419.0 L980.0,421.0 L982.0,423.0 L984.0,425.0 L986.0,427.0 L988.0,429.1 L990.0,431.1 L992.0,433.2 L994.0,435.4 L996.0,437.5 L998.0,439.6 L1000.0,441.7 L1002.0,443.8 L1004.0,445.9 L1006.0,448.0 L1008.0,450.0 L1010.0,452.0 L1012.0,454.0 L1014.0,455.9 L1016.0,457.8 L1018.0,459.7 L1020.0,461.6 L1022.0,463.5 L1024.0,465.4 L1026.0,467.3 L1028.0,469.2 L1030.0,471.1 L1032.0,473.1 L1034.0,475.0 L1036.0,477.0 L1038.0,479.0 L1040.0,481.1 L1042.0,483.1 L1044.0,485.1 L1046.0,487.1 L1048.0,489.1 L1050.0,491.0 L1052.0,492.8 L1054.0,494.6 L1056.0,496.4 L1058.0,498.1 L1060.0,499.9 L1062.0,501.5 L1064.0,503.2 L1066.0,504.9 L1068.0,506.6 L1070.0,508.3 L1072.0,509.9 L1074.0,511.6 L1076.0,513.4 L1078.0,515.1 L1080.0,516.8 L1082.0,518.4 L1084.0,520.1 L1086.0,521.8 L1088.0,523.5 L1090.0,525.2 L1092.0,526.9 L1094.0,528.7 L1096.0,530.4 L1098.0,532.2 L1100.0,534.0 L1102.0,535.8 L1104.0,537.7 L1106.0,539.6 L1108.0,541.6 L1110.0,543.5 L1112.0,545.5 L1114.0,547.5 L1116.0,549.6 L1118.0,551.8 L1120.0,553.9 L1122.0,556.0 L1124.0,558.0 L1126.0,559.9 L1128.0,561.8 L1130.0,563.6 L1132.0,565.4 L1134.0,567.1 L1136.0,568.8 L1138.0,570.4 L1140.0,572.0 L1142.0,573.5 L1144.0,575.0 L1146.0,576.4 L1148.0,577.8 L1150.0,579.0 L1152.0,580.1 L1154.0,581.1 L1156.0,582.1 L1158.0,583.0 L1160.0,583.9 L1162.0,584.8 L1164.0,585.7 L1166.0,586.6 L1168.0,587.5 L1170.0,588.4 L1172.0,589.2 L1174.0,590.1 L1176.0,590.9 L1178.0,591.7 L1180.0,592.5 L1182.0,593.3 L1184.0,594.0 L1186.0,594.8 L1188.0,595.5 L1190.0,596.2 L1192.0,597.0 L1194.0,597.7 L1196.0,598.5 L1198.0,599.2 L1200.0,600.0 L1202.0,600.8 L1204.0,601.6 L1206.0,602.4 L1208.0,603.2 L1210.0,604.0 L1212.0,604.8 L1214.0,605.6 L1216.0,606.4 L1218.0,607.2 L1220.0,608.0 L1222.0,608.8 L1224.0,609.6 L1226.0,610.4 L1228.0,611.2 L1230.0,612.0 L1232.0,612.7 L1234.0,613.5 L1236.0,614.3 L1238.0,615.0 L1240.0,615.8 L1242.0,616.6 L1244.0,617.4 L1246.0,618.2 L1248.0,619.1 L1250.0,620.0 L1252.0,620.9 L1254.0,622.0 L1256.0,623.0 L1258.0,624.1 L1260.0,625.2 L1262.0,626.3 L1264.0,627.3 L1266.0,628.3 L1268.0,629.2 L1270.0,630.1 L1277.5,633.0 L1287.5,635.0 L1295.0,631.0 L1304.0,629.0 L1315.0,633.0 L1337.5,642.5 L1362.5,651.0 L1387.5,661.0 L1412.5,670.0 L1432.5,677.5 L1445.0,686.0 L1462.5,702.5 L1480.0,715.0 L1492.0,722.5 L1507.0,727.0 L1532.0,730.0 L1552.0,731.0 L1567.0,732.0 L1577.0,729.0 L1587.0,728.0 L1602.0,729.0 L1612.0,731.0 L1624.5,736.0 L1642.0,741.0 L1657.0,749.0 L1672.0,752.5 L1689.5,759.0 L1702.0,760.0 L1712.0,762.5 L1719.5,759.5 L1732.0,764.0 L1743.0,768.0 L1752.0,765.5 L1762.0,767.5 L1772.0,770.5 L1784.5,769.5 L1793.0,766.0 L1800.8,775.0 L1807.0,776.0 L1814.5,784.0 L1824.5,784.0 L1832.0,792.5 L1840.8,793.0 L1849.5,789.0 L1857.0,790.0 L1864.5,784.0 L1872.0,787.0 L1878.0,787.5" stroke="#ff00ff" stroke-width="4.6"/>
<path d="M300.0,443.0 L302.0,442.2 L304.0,442.0 L306.0,442.7 L308.0,443.6 L310.0,443.6 L312.0,442.6 L314.0,441.0 L316.0,438.5 L318.0,433.2 L320.0,427.5 L322.0,422.6 L324.0,417.7 L326.0,413.1 L328.0,408.8 L330.0,404.7 L332.0,400.8 L334.0,397.0 L336.0,393.4 L338.0,389.8 L340.0,386.5 L342.0,383.3 L344.0,380.1 L346.0,376.9 L348.0,373.8 L350.0,371.1 L352.0,369.3 L354.0,368.3 L356.0,367.4 L358.0,366.8 L360.0,366.2 L362.0,365.7 L364.0,365.2 L366.0,364.8 L368.0,364.4 L370.0,364.0 L372.0,363.7 L374.0,363.3 L376.0,362.9 L378.0,362.3 L380.0,361.6 L382.0,360.7 L384.0,359.7 L386.0,358.5 L388.0,357.3 L390.0,356.0 L392.0,354.6 L394.0,353.1 L396.0,351.4 L398.0,349.6 L400.0,347.6 L402.0,345.5 L404.0,343.3 L406.0,340.8 L408.0,338.1 L410.0,335.2 L412.0,332.2 L414.0,329.1 L416.0,325.9 L418.0,322.5 L420.0,318.8 L422.0,315.1 L424.0,311.3 L426.0,307.7 L428.0,304.1 L430.0,300.5 L432.0,296.9 L434.0,293.4 L436.0,289.9 L438.0,286.8 L440.0,284.0 L442.0,281.6 L444.0,279.4 L446.0,277.5 L448.0,275.8 L450.0,274.4 L452.0,272.9 L454.0,271.3 L456.0,269.6 L458.0,267.9 L460.0,266.2 L462.0,264.6 L464.0,263.2 L466.0,261.9 L468.0,260.8 L470.0,259.9 L472.0,258.9 L474.0,258.0 L476.0,256.9 L478.0,255.7 L480.0,254.2 L482.0,252.6 L484.0,250.8 L486.0,249.0 L488.0,247.0 L490.0,245.0 L492.0,242.9 L494.0,240.8 L496.0,238.5 L498.0,236.1 L500.0,233.6 L502.0,230.7 L504.0,227.6 L506.0,223.8 L508.0,219.7 L510.0,215.4 L512.0,211.1 L514.0,206.9 L516.0,203.1 L518.0,199.3 L520.0,195.6 L522.0,192.0 L524.0,188.4 L526.0,185.0 L528.0,181.7 L530.0,178.5 L532.0,175.4 L534.0,172.3 L536.0,169.4 L538.0,166.6 L540.0,164.0 L542.0,161.4 L544.0,158.8 L546.0,156.4 L548.0,154.1 L550.0,152.0 L552.0,150.4 L554.0,149.0 L556.0,147.8 L558.0,146.6 L560.0,145.7 L562.0,144.8 L564.0,144.2 L566.0,143.8 L568.0,143.4 L570.0,143.1 L572.0,143.0 L574.0,143.1 L576.0,143.3 L578.0,143.7 L580.0,144.2 L582.0,144.8 L584.0,145.6 L586.0,146.9 L588.0,148.4 L590.0,150.0 L592.0,151.5 L594.0,153.2 L596.0,154.9 L598.0,156.7 L600.0,158.6 L602.0,160.5 L604.0,162.5 L606.0,164.8 L608.0,167.1 L610.0,169.5 L612.0,171.8 L614.0,174.0 L616.0,175.9 L618.0,177.7 L620.0,179.3 L622.0,180.9 L624.0,182.5 L626.0,184.2 L628.0,186.0 L630.0,187.8 L632.0,189.7 L634.0,191.6 L636.0,193.6 L638.0,195.5 L640.0,197.5 L642.0,199.5 L644.0,201.5 L646.0,203.5 L648.0,205.5 L650.0,207.5 L652.0,209.5 L654.0,211.5 L656.0,213.7 L658.0,215.8 L660.0,217.9 L662.0,219.9 L664.0,221.7 L666.0,223.2 L668.0,224.6 L670.0,225.8 L672.0,227.0 L674.0,228.1 L676.0,229.2 L678.0,230.3 L680.0,231.3 L682.0,232.3 L684.0,233.3 L686.0,234.2 L688.0,235.1 L690.0,236.0 L692.0,236.9 L694.0,237.7 L696.0,238.6 L698.0,239.4 L700.0,240.1 L702.0,240.8 L704.0,241.5 L706.0,242.1 L708.0,242.6 L710.0,243.1 L712.0,243.7 L714.0,244.2 L716.0,244.8 L718.0,245.3 L720.0,245.8 L722.0,246.4 L724.0,247.1 L726.0,248.1 L728.0,249.6 L730.0,251.6 L732.0,253.5 L734.0,255.5 L736.0,257.8 L738.0,259.8 L740.0,261.0 L742.0,261.5 L744.0,261.9 L746.0,262.2 L748.0,262.5 L750.0,262.7 L752.0,262.9 L754.0,263.2 L756.0,263.5 L758.0,263.8 L760.0,264.1 L762.0,264.3 L764.0,264.4 L766.0,264.5 L768.0,264.6 L770.0,264.7 L772.0,264.8 L774.0,264.8 L776.0,264.9 L778.0,264.9 L780.0,265.0 L782.0,265.0 L784.0,265.0 L786.0,265.0 L788.0,265.0 L790.0,265.0 L792.0,265.0 L794.0,264.9 L796.0,264.9 L798.0,264.9 L800.0,264.9 L802.0,264.8 L804.0,264.8 L806.0,264.8 L808.0,264.7 L810.0,264.7 L812.0,264.6 L814.0,264.6 L816.0,264.5 L818.0,264.5 L820.0,264.4 L822.0,264.4 L824.0,264.3 L826.0,264.2 L828.0,264.2 L830.0,264.1 L832.0,264.1 L834.0,264.0 L836.0,263.9 L838.0,263.8 L840.0,263.7 L842.0,263.6 L844.0,263.5 L846.0,263.4 L848.0,263.2 L850.0,263.1 L852.0,262.9 L854.0,262.8 L856.0,262.6 L858.0,262.5 L860.0,262.4 L862.0,262.3 L864.0,262.2 L866.0,262.1 L868.0,262.0 L870.0,262.0 L872.0,262.0 L874.0,262.0 L876.0,262.0 L878.0,262.0 L880.0,262.0 L882.0,262.0 L884.0,262.0 L886.0,262.0 L888.0,262.0 L890.0,262.0 L892.0,262.0 L894.0,262.0 L896.0,262.0 L898.0,262.0 L900.0,262.1 L902.0,262.2 L904.0,262.3 L906.0,262.5 L908.0,262.7 L910.0,263.0 L912.0,263.2 L914.0,263.5 L916.0,263.8 L918.0,264.0 L920.0,264.3 L922.0,264.6 L924.0,264.8 L926.0,265.1 L928.0,265.5 L930.0,265.8 L932.0,266.1 L934.0,266.5 L936.0,266.9 L938.0,267.3 L940.0,267.7 L942.0,268.1 L944.0,268.5 L946.0,268.9 L948.0,269.3 L950.0,269.7 L952.0,270.2 L954.0,270.6 L956.0,271.0 L958.0,271.5 L960.0,272.0 L962.0,272.5 L964.0,273.0 L966.0,273.5 L968.0,274.0 L970.0,274.6 L972.0,275.1 L974.0,275.7 L976.0,276.4 L978.0,277.0 L980.0,277.7 L982.0,278.4 L984.0,279.1 L986.0,279.9 L988.0,280.6 L990.0,281.4 L992.0,282.2 L994.0,283.0 L996.0,283.8 L998.0,284.6 L1000.0,285.5 L1002.0,286.3 L1004.0,287.2 L1006.0,288.1 L1008.0,289.1 L1010.0,290.0 L1012.0,291.0 L1014.0,292.0 L1016.0,293.0 L1018.0,294.1 L1020.0,295.2 L1022.0,296.3 L1024.0,297.4 L1026.0,298.6 L1028.0,299.9 L1030.0,301.2 L1032.0,302.5 L1034.0,303.9 L1036.0,305.2 L1038.0,306.6 L1040.0,308.0 L1042.0,309.4 L1044.0,310.8 L1046.0,312.2 L1048.0,313.5 L1050.0,314.9 L1052.0,316.2 L1054.0,317.6 L1056.0,319.0 L1058.0,320.3 L1060.0,321.7 L1062.0,323.1 L1064.0,324.5 L1066.0,326.0 L1068.0,327.4 L1070.0,328.9 L1072.0,330.4 L1074.0,331.9 L1076.0,333.4 L1078.0,335.0 L1080.0,336.5 L1082.0,338.1 L1084.0,339.7 L1086.0,341.3 L1088.0,342.9 L1090.0,344.6 L1092.0,346.2 L1094.0,347.9 L1096.0,349.6 L1098.0,351.3 L1100.0,353.1 L1102.0,354.9 L1104.0,356.7 L1106.0,358.5 L1108.0,360.2 L1110.0,361.8 L1112.0,363.3 L1114.0,364.7 L1116.0,366.1 L1118.0,367.5 L1120.0,368.9 L1122.0,370.4 L1124.0,371.9 L1126.0,373.5 L1128.0,375.1 L1130.0,376.8 L1132.0,378.4 L1134.0,380.0 L1136.0,381.6 L1138.0,383.3 L1140.0,385.0 L1142.0,386.6 L1144.0,388.2 L1146.0,389.7 L1148.0,391.0 L1150.0,392.3 L1152.0,393.5 L1154.0,394.7 L1156.0,395.8 L1158.0,396.9 L1160.0,398.1 L1162.0,399.2 L1164.0,400.2 L1166.0,401.3 L1168.0,402.3 L1170.0,403.3 L1172.0,404.2 L1174.0,405.1 L1176.0,405.9 L1178.0,406.7 L1180.0,407.4 L1182.0,408.2 L1184.0,409.0 L1186.0,409.8 L1188.0,410.6 L1190.0,411.4 L1192.0,412.2 L1194.0,413.0 L1196.0,413.7 L1198.0,414.5 L1200.0,415.3 L1202.0,416.1 L1204.0,416.9 L1206.0,417.8 L1208.0,418.6 L1210.0,419.4 L1212.0,420.3 L1214.0,421.1 L1216.0,422.0 L1218.0,422.9 L1220.0,423.8 L1222.0,424.7 L1224.0,425.5 L1226.0,426.4 L1228.0,427.3 L1230.0,428.2 L1232.0,429.1 L1234.0,430.0 L1236.0,430.9 L1238.0,431.7 L1240.0,432.6 L1242.0,433.4 L1244.0,434.3 L1246.0,435.2 L1248.0,436.0 L1250.0,436.9 L1252.0,437.8 L1254.0,438.7 L1256.0,439.6 L1258.0,440.5 L1260.0,441.5 L1262.0,442.6 L1264.0,443.9 L1266.0,445.2 L1268.0,446.5 L1270.0,447.7 L1278.0,451.0 L1288.0,452.0 L1295.5,449.0 L1303.0,446.0 L1310.5,447.5 L1328.0,455.0 L1353.0,464.0 L1378.0,475.0 L1403.0,485.0 L1420.5,491.0 L1433.0,495.0 L1448.0,507.5 L1463.0,519.0 L1478.0,525.0 L1482.0,527.0 L1492.0,531.0 L1502.0,537.5 L1514.5,541.0 L1532.0,545.0 L1549.5,548.0 L1564.5,550.5 L1575.8,552.0 L1583.0,547.5 L1590.8,552.5 L1602.0,555.5 L1609.5,554.0 L1618.0,560.0 L1632.0,562.5 L1647.0,571.0 L1662.0,577.5 L1679.5,582.0 L1687.0,588.0 L1699.5,590.0 L1705.8,595.0 L1722.0,592.5 L1729.5,594.5 L1737.0,599.5 L1747.0,602.5 L1757.0,604.0 L1764.5,601.0 L1770.8,600.0 L1775.8,597.0 L1782.0,603.0 L1788.0,597.5 L1794.5,593.0 L1799.5,600.0 L1805.8,611.0 L1814.5,611.0 L1823.0,619.0 L1832.0,630.0 L1838.0,628.0 L1844.5,622.5 L1850.8,627.5 L1854.5,625.0 L1859.5,631.0 L1865.8,617.5 L1871.5,634.0 L1878.0,629.0" stroke="#ff0000" stroke-width="4.6"/>
</g>
<rect x="299.5" y="65" width="1581.5" height="1176.5" fill="none" stroke="#000" stroke-width="6"/>
<g stroke="#000" stroke-width="5.4">
<line x1="299.5" y1="1134.5" x2="323.5" y2="1134.5"/>
<line x1="299.5" y1="867.2" x2="323.5" y2="867.2"/>
<line x1="299.5" y1="599.8" x2="323.5" y2="599.8"/>
<line x1="299.5" y1="332.4" x2="323.5" y2="332.4"/>
<line x1="505.8" y1="1241.5" x2="505.8" y2="1215.5"/>
<line x1="849.6" y1="1241.5" x2="849.6" y2="1215.5"/>
<line x1="1193.4" y1="1241.5" x2="1193.4" y2="1215.5"/>
<line x1="1537.2" y1="1241.5" x2="1537.2" y2="1215.5"/>
</g>
<g font-family="'Liberation Sans', Arial, Helvetica, sans-serif" font-weight="bold" fill="#000">
<g font-size="60" text-anchor="end">
<text transform="translate(272,1151.7) scale(1,1.045)">0.0</text>
<text transform="translate(272,884.4) scale(1,1.045)">0.5</text>
<text transform="translate(272,617.0) scale(1,1.045)">1.0</text>
<text transform="translate(272,349.6) scale(1,1.045)">1.5</text>
<text transform="translate(272,82.2) scale(1,1.045)">2.0</text>
</g>
<g font-size="60" text-anchor="middle">
<text transform="translate(504.8,1314) scale(1,1.045)">500</text>
<text transform="translate(848.6,1314) scale(1,1.045)">1000</text>
<text transform="translate(1192.4,1314) scale(1,1.045)">1500</text>
<text transform="translate(1536.2,1314) scale(1,1.045)">2000</text>
<text transform="translate(1880.0,1314) scale(1,1.045)">2500</text>
</g>
<text x="1089" y="1430" font-size="72" text-anchor="middle">Wavelength (nm)</text>
<text transform="translate(139,702) rotate(-90)" font-size="72" text-anchor="middle">Absorbance</text>
<g font-size="72">
<text x="516" y="617.3">CFs</text>
<text x="516" y="708">PPy@CFs</text>
<text x="516.5" y="798">PB@CFs</text>
<text x="517.5" y="888">PB/PPy@CFs</text>
</g>
</g>
<g stroke-width="6">
<line x1="358.5" y1="597.2" x2="500.5" y2="597.2" stroke="#000"/>
<line x1="358.5" y1="687.5" x2="500.5" y2="687.5" stroke="#0000ff"/>
<line x1="358.5" y1="777.3" x2="500.5" y2="777.3" stroke="#ff00ff"/>
<line x1="358.5" y1="856.3" x2="497.7" y2="856.3" stroke="#ff0000"/>
</g>
</svg>
</body>
</html>
